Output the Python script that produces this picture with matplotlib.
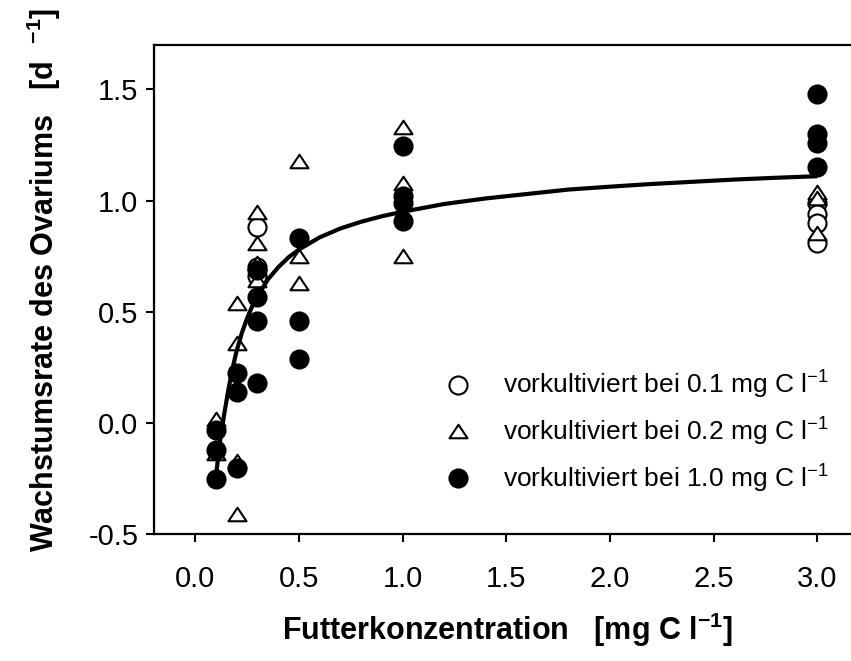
import matplotlib
matplotlib.use("Agg")
import matplotlib.pyplot as plt
from matplotlib.lines import Line2D
from matplotlib.path import Path

plt.rcParams["font.family"] = ["Liberation Sans", "DejaVu Sans"]
plt.rcParams["mathtext.fontset"] = "custom"
plt.rcParams["mathtext.rm"] = "Liberation Sans"
plt.rcParams["mathtext.it"] = "Liberation Sans:italic"
plt.rcParams["mathtext.bf"] = "Liberation Sans:bold"

# open circles - vorkultiviert bei 0.1 mg C/l
x_01 = [0.3, 0.3, 0.3, 3.0, 3.0, 3.0, 3.0]
y_01 = [0.88, 0.70, 0.66, 0.99, 0.94, 0.90, 0.81]

# open triangles - vorkultiviert bei 0.2 mg C/l
x_02 = [0.1, 0.1, 0.2, 0.2, 0.2, 0.2, 0.3, 0.3, 0.3, 0.3,
        0.5, 0.5, 0.5, 1.0, 1.0, 1.0, 3.0, 3.0, 3.0]
y_02 = [0.02, -0.135, 0.54, 0.36, -0.17, -0.41, 0.95, 0.81, 0.72, 0.645,
        1.18, 0.75, 0.63, 1.33, 1.08, 0.75, 1.04, 1.01, 0.855]

# filled circles - vorkultiviert bei 1.0 mg C/l
x_10 = [0.1, 0.1, 0.1, 0.2, 0.2, 0.2, 0.3, 0.3, 0.3, 0.3,
        0.5, 0.5, 0.5, 1.0, 1.0, 1.0, 1.0, 3.0, 3.0, 3.0, 3.0]
y_10 = [-0.03, -0.12, -0.25, 0.225, 0.14, -0.2, 0.69, 0.565, 0.46, 0.18,
        0.83, 0.46, 0.29, 1.245, 1.02, 0.99, 0.91, 1.48, 1.30, 1.26, 1.15]

# fitted curve
x_fit = [0.10, 0.12, 0.14, 0.16, 0.18, 0.20, 0.225, 0.25, 0.275, 0.30,
         0.35, 0.40, 0.45, 0.50, 0.60, 0.70, 0.80, 0.90, 1.00, 1.20,
         1.40, 1.60, 1.80, 2.00, 2.20, 2.40, 2.60, 2.80, 3.00]
y_fit = [-0.24, -0.08, 0.04, 0.15, 0.245, 0.325, 0.405, 0.47, 0.525, 0.57,
         0.645, 0.70, 0.745, 0.78, 0.835, 0.875, 0.905, 0.93, 0.95, 0.985,
         1.01, 1.03, 1.05, 1.063, 1.075, 1.085, 1.095, 1.103, 1.11]

x_ticks = [0.0, 0.5, 1.0, 1.5, 2.0, 2.5, 3.0]
y_ticks = [-0.5, 0.0, 0.5, 1.0, 1.5]

legend_labels = [
    r"vorkultiviert bei 0.1 mg C l$^{-1}$",
    r"vorkultiviert bei 0.2 mg C l$^{-1}$",
    r"vorkultiviert bei 1.0 mg C l$^{-1}$",
]

W, H = 851, 661
fig = plt.figure(figsize=(W / 100, H / 100), dpi=100)
ax = fig.add_axes([153.7 / W, (H - 534.3) / H, (858.7 - 153.7) / W, (534.3 - 45) / H])

ms = 13
mew = 1.5
# slightly flattened open triangle
tri = Path([(0, 0.75), (-1, -0.75), (1, -0.75), (0, 0.75)], closed=True)
ax.plot(x_01, y_01, "o", ms=ms, mfc="white", mec="black", mew=mew, ls="none", zorder=3)
ax.plot(x_02, y_02, marker=tri, ms=ms, mfc="white", mec="black", mew=mew, ls="none", zorder=4)
ax.plot(x_10, y_10, "o", ms=ms, mfc="black", mec="black", mew=mew, ls="none", zorder=5)
ax.plot(x_fit, y_fit, "-", color="black", lw=3, zorder=6, solid_capstyle="butt")

ax.set_xlim(-0.2, 3.2)
ax.set_ylim(-0.5, 1.7)
ax.set_xticks(x_ticks)
ax.set_xticklabels([f"{v:.1f}" for v in x_ticks])
ax.set_yticks(y_ticks)
ax.set_yticklabels([f"{v:.1f}" for v in y_ticks])
ax.tick_params(direction="out", length=6, width=1.5, labelsize=21)
ax.tick_params(axis="x", pad=16)
ax.tick_params(axis="y", pad=5)
for side in ["left", "bottom", "top"]:
    ax.spines[side].set_linewidth(1.6)
ax.spines["right"].set_visible(False)

fig.text(507 / W, 1 - 630 / H,
         r"Futterkonzentration   [mg C l$^{\mathbf{-1}}$]",
         ha="center", va="center", fontsize=22, fontweight="bold")
fig.text(44 / W, 1 - 280 / H,
         r"Wachstumsrate des Ovariums   [d  $^{\mathbf{-1}}$]",
         ha="center", va="center", rotation=90, fontsize=22, fontweight="bold")

handles = [
    Line2D([], [], marker="o", ls="none", ms=ms, mfc="white", mec="black", mew=mew),
    Line2D([], [], marker=tri, ls="none", ms=ms, mfc="white", mec="black", mew=mew),
    Line2D([], [], marker="o", ls="none", ms=ms, mfc="black", mec="black", mew=mew),
]
ax.legend(handles, legend_labels, loc="upper left",
          bbox_to_anchor=(445 / W, 1 - 369 / H), bbox_transform=fig.transFigure,
          frameon=False, fontsize=19, handletextpad=1.2, labelspacing=0.55,
          borderpad=0, borderaxespad=0, handlelength=1.0)

fig.savefig("out.png", dpi=100)
